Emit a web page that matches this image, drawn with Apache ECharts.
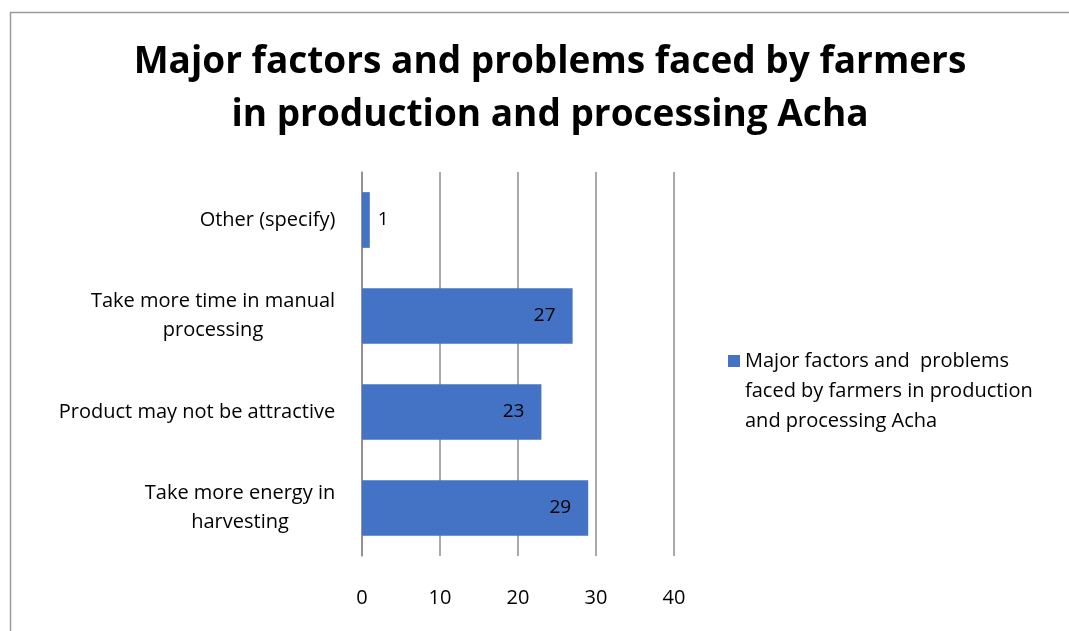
<!DOCTYPE html>
<html>
<head>
<meta charset="utf-8">
<script src="https://cdn.jsdelivr.net/npm/echarts@6/dist/echarts.min.js"></script>
<style>
  html, body { margin: 0; padding: 0; background: #fff; }
  #chart { width: 1069px; height: 631px; }
</style>
</head>
<body>
<div id="chart"></div>
<script>
  // bottom to top, as drawn on the category axis
  var categories = [
    'Take more energy in\nharvesting',
    'Product may not be attractive',
    'Take more time in manual\nprocessing',
    'Other (specify)'
  ];
  var values = [29, 23, 27, 1];
  var seriesName = 'Major factors and  problems\nfaced by farmers in production\nand processing Acha';
  var titleText = 'Major factors and problems faced by farmers\nin production and processing Acha';

  var myChart = echarts.init(document.getElementById('chart'));
  var font = '"Open Sans", "Liberation Sans", sans-serif';
  var catSize = 20;

  // lines of a multi-line label are centred on each other, block is right-aligned
  var ctx = document.createElement('canvas').getContext('2d');
  ctx.font = catSize + 'px ' + font;
  var rich = {};
  categories.forEach(function (c, i) {
    var w = 0;
    c.split('\n').forEach(function (l) { w = Math.max(w, ctx.measureText(l).width); });
    rich['r' + i] = { width: Math.ceil(w) + 1, align: 'center', fontSize: catSize, lineHeight: 29, color: '#000', fontFamily: font };
  });

  myChart.setOption({
    animation: false,
    textStyle: { fontFamily: font },
    graphic: [{
      type: 'rect',
      shape: { x: 10.5, y: 12.5, width: 1080, height: 640 },
      style: { fill: 'none', stroke: '#9a9a9a', lineWidth: 1.5 },
      silent: true
    }],
    title: {
      text: titleText,
      left: 545,
      textAlign: 'center',
      top: 31,
      textStyle: {
        fontFamily: font,
        fontSize: 37,
        fontWeight: 'bold',
        color: '#000',
        lineHeight: 53
      }
    },
    legend: {
      left: 723,
      top: 341,
      itemWidth: 12,
      itemHeight: 72,
      itemGap: 5,
      icon: 'path://M0,0L12,0L12,12L0,12Z M0,71.9L0.01,71.9L0.01,72L0,72Z',
      data: [seriesName],
      textStyle: {
        fontFamily: font,
        fontSize: 20,
        color: '#000',
        lineHeight: 30
      }
    },
    grid: {
      left: 362,
      right: 395,
      top: 172,
      bottom: 75
    },
    xAxis: {
      type: 'value',
      min: 0,
      max: 40,
      interval: 10,
      axisLine: { show: false },
      axisTick: { show: false },
      splitLine: { lineStyle: { color: '#8c8c8c', width: 1.5 } },
      axisLabel: { color: '#000', fontSize: 20, margin: 32, fontFamily: font }
    },
    yAxis: {
      type: 'category',
      data: categories,
      axisLine: { show: true, lineStyle: { color: '#8c8c8c', width: 1.5 } },
      axisTick: { show: false },
      axisLabel: {
        color: '#000', fontSize: catSize, lineHeight: 29, margin: 26, fontFamily: font,
        rich: rich,
        formatter: function (v) {
          var i = categories.indexOf(v);
          return v.split('\n').map(function (l) { return '{r' + i + '|' + l + '}'; }).join('\n');
        }
      },
      splitLine: { show: false }
    },
    series: [{
      name: seriesName,
      type: 'bar',
      barCategoryGap: '42%',
      itemStyle: { color: '#4472c4' },
      data: values.map(function (v) {
        return {
          value: v,
          label: {
            show: true,
            position: v < 5 ? 'right' : 'insideRight',
            distance: v < 5 ? 8 : 17,
            color: '#000',
            fontSize: 19,
            fontFamily: font
          }
        };
      })
    }]
  });
</script>
</body>
</html>
